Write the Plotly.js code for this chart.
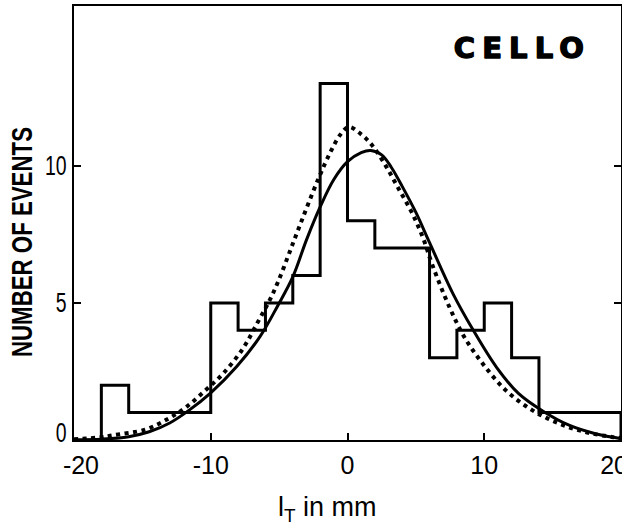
<!DOCTYPE html>
<html>
<head>
<meta charset="utf-8">
<script src="https://cdn.plot.ly/plotly-3.0.1.min.js"></script>
<style>
  html, body { margin: 0; padding: 0; background: #fff; }
  #chart { width: 622px; height: 529px; }
</style>
</head>
<body>
<div id="chart"></div>
<script>
// Histogram of l_T: 2 mm bins from -20 to 20 mm
const binEdges = [-20, -18, -16, -14, -12, -10, -8, -6, -4, -2, 0, 2, 4, 6, 8, 10, 12, 14, 16, 18, 20];
const binCounts = [0, 2, 1, 1, 1, 5, 4, 5, 6, 13, 8, 7, 7, 3, 4, 5, 3, 1, 1, 1];

// Fitted curve (solid)
const fitX = [-20, -18, -16, -14.5, -13, -11.6, -10, -8.1, -6.4, -5.1, -4, -3, -2, -1, 0, 1, 1.7, 2.5, 3.2, 4, 5, 6, 7.7, 9.2, 10.9, 12.5, 14.3, 16.2, 18.2, 20];
const fitY = [0.0, 0.03, 0.12, 0.3, 0.62, 1.08, 1.72, 2.68, 3.77, 4.9, 5.95, 7.3, 8.5, 9.5, 10.15, 10.48, 10.56, 10.4, 9.95, 9.25, 8.3, 7.2, 5.35, 4.0, 2.65, 1.7, 1.05, 0.54, 0.22, 0.05];

// Expected curve (dotted)
const expX = [-20, -18, -17.2, -14.8, -13.1, -11.75, -10.4, -9.1, -7.64, -6.55, -5.69, -5.08, -4.35, -3.7, -2.17, -1.2, -0.5, 0.1, 1.0, 1.8, 2.8, 3.7, 4.7, 5.5, 6.23, 7.45, 8.54, 9.88, 11.58, 13.53, 15.47, 17.4, 19.35, 20];
const expY = [0.03, 0.1, 0.17, 0.38, 0.78, 1.22, 1.81, 2.42, 3.34, 4.31, 5.1, 5.77, 6.7, 7.55, 9.48, 10.55, 11.15, 11.42, 11.15, 10.75, 10.0, 9.2, 8.3, 7.4, 6.35, 4.85, 3.76, 2.79, 1.81, 1.08, 0.6, 0.29, 0.11, 0.08];

const xTickVals = [-20, -10, 0, 10, 20];
const xTickText = ['\u2007-20', '-10', '0', '10', '20\u2007'];
const yTickVals = [0, 5, 10];
const yTickText = ['0', '5', '10'];

// Step outline of the histogram: each count held across its bin, closed at the right edge
const histX = binEdges.slice();
const histY = binCounts.concat([binCounts[binCounts.length - 1]]);
histX.push(binEdges[binEdges.length - 1]);
histY.push(0);

const sans = 'Liberation Sans, Arial, sans-serif';

const traces = [
  {
    x: histX, y: histY, type: 'scatter', mode: 'lines',
    line: { shape: 'hv', color: '#000', width: 3 },
    hoverinfo: 'skip'
  },
  {
    x: fitX, y: fitY, type: 'scatter', mode: 'lines',
    line: { shape: 'spline', smoothing: 1, color: '#000', width: 3 },
    hoverinfo: 'skip'
  },
  {
    x: expX, y: expY, type: 'scatter', mode: 'lines',
    line: { shape: 'spline', smoothing: 1, color: '#000', width: 4, dash: '4px,4.5px' },
    hoverinfo: 'skip'
  }
];

const axisCommon = {
  showgrid: false,
  zeroline: false,
  showline: true,
  linecolor: '#000',
  linewidth: 2,
  ticks: 'inside',
  ticklen: 7,
  tickwidth: 2,
  tickcolor: '#000',
  fixedrange: true
};

const layout = {
  width: 622,
  height: 529,
  margin: { l: 74, r: 1, t: 6, b: 89 },
  paper_bgcolor: '#fff',
  plot_bgcolor: '#fff',
  showlegend: false,
  xaxis: Object.assign({}, axisCommon, {
    range: [-20, 20],
    tickmode: 'array', tickvals: xTickVals, ticktext: xTickText,
    tickfont: { family: sans, size: 25, color: '#000' },
    ticklabeloverflow: 'allow',
    ticklabelstandoff: 2,
    mirror: true
  }),
  yaxis: Object.assign({}, axisCommon, {
    range: [0, 15.83],
    tickmode: 'array', tickvals: yTickVals, ticktext: yTickText,
    tickfont: { family: sans, size: 27, color: '#000' },
    mirror: 'ticks'
  }),
  annotations: [
    {
      text: 'CELLO',
      xref: 'paper', yref: 'paper', x: 0.911, y: 0.903,
      xanchor: 'right', yanchor: 'middle', showarrow: false,
      font: { family: 'DejaVu Sans, sans-serif', size: 29, weight: 'bold', color: '#000' }
    },
    {
      text: 'NUMBER OF EVENTS',
      xref: 'paper', yref: 'paper', x: -0.097, y: 0.456,
      xanchor: 'center', yanchor: 'middle', textangle: -90, showarrow: false,
      font: { family: sans, size: 30, weight: 'bold', color: '#000' }
    },
    {
      text: 'l<sub>T</sub> in mm',
      xref: 'paper', yref: 'paper', x: 0.464, y: -0.16,
      xanchor: 'center', yanchor: 'middle', showarrow: false,
      font: { family: sans, size: 27, color: '#000' }
    }
  ]
};

// Narrow the lettering of the vertical labels and track out the detector name
function fitText(el, length, adjust) {
  el.setAttribute('textLength', length);
  el.setAttribute('lengthAdjust', adjust);
}

Plotly.newPlot('chart', traces, layout, { displayModeBar: false, staticPlot: true }).then(function (gd) {
  gd.querySelectorAll('.ytick text').forEach(function (t) {
    fitText(t, t.getComputedTextLength() * 0.72, 'spacingAndGlyphs');
    // lift the zero label clear of the x-axis numbers
    if (t.textContent === '0') {
      const tr = t.getAttribute('transform') || '';
      t.setAttribute('transform', tr + ' translate(0,-7)');
    }
  });
  const notes = gd.querySelectorAll('.annotation-text');
  if (notes[0]) {
    fitText(notes[0], 130, 'spacing');
    // heavier strokes for the detector name
    notes[0].style.stroke = '#000';
    notes[0].style.strokeWidth = '1.4px';
    notes[0].style.strokeLinejoin = 'round';
  }
  if (notes[1]) fitText(notes[1], 230, 'spacingAndGlyphs');
});
</script>
</body>
</html>
